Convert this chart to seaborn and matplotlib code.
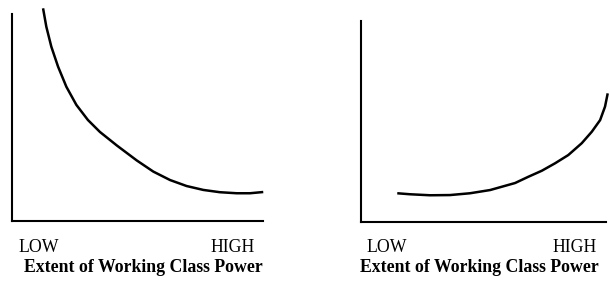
import matplotlib
matplotlib.use('Agg')
import matplotlib.pyplot as plt
import seaborn as sns

# curve (x: working class power 0..10, y: 0..10)
left_x = [1.22, 1.35, 1.55, 1.82, 2.15, 2.55, 3.01, 3.49, 4.17, 4.96, 5.62, 6.29,
          6.95, 7.62, 8.28, 8.95, 9.48, 10.01]
left_y = [10.29, 9.40, 8.43, 7.46, 6.49, 5.61, 4.88, 4.30, 3.64, 2.92, 2.38, 1.97,
          1.68, 1.49, 1.38, 1.33, 1.33, 1.39]

right_x = [1.48, 2.00, 2.82, 3.63, 4.45, 5.27, 6.29, 6.83, 7.38, 7.92, 8.46, 9.01,
           9.42, 9.76, 9.96, 10.07]
right_y = [1.43, 1.38, 1.33, 1.34, 1.43, 1.59, 1.94, 2.25, 2.55, 2.92, 3.33, 3.92,
           4.49, 5.07, 5.74, 6.40]

low_label = 'LOW'
high_label = 'HIGH'
axis_title = 'Extent of Working Class Power'

sns.set_style('white')
plt.rcParams['font.family'] = ['Liberation Serif', 'DejaVu Serif']

W, H = 610, 288
fig = plt.figure(figsize=(W / 100, H / 100), dpi=100)

# axes boxes in pixels: (left, top, right, bottom)
boxes = [(12.5, 14.3, 263, 220.7), (361, 21, 606, 222)]
curves = [(left_x, left_y), (right_x, right_y)]
# text positions in pixels: LOW left edge, HIGH right edge, title centre
texts = [(18.3, 255, 143), (366.7, 596.7, 479.5)]

for (l, t, r, b), (cx, cy), (lx, hx, tx) in zip(boxes, curves, texts):
    ax = fig.add_axes([l / W, 1 - b / H, (r - l) / W, (b - t) / H])
    sns.lineplot(x=cx, y=cy, ax=ax, color='black', linewidth=1.8,
                 estimator=None, sort=False, clip_on=False,
                 solid_joinstyle='round', solid_capstyle='butt')
    ax.set_xlim(0, 10)
    ax.set_ylim(0, 10)
    ax.set_xticks([])
    ax.set_yticks([])
    sns.despine(ax=ax)
    for side in ['left', 'bottom']:
        ax.spines[side].set_linewidth(1.5)
        ax.spines[side].set_color('black')

    fig.text(lx / W, 1 - 251.7 / H, low_label, ha='left', va='baseline',
             fontsize=12.8, color='black')
    fig.text(hx / W, 1 - 251.7 / H, high_label, ha='right', va='baseline',
             fontsize=12.8, color='black')
    fig.text(tx / W, 1 - 272.5 / H, axis_title, ha='center', va='baseline',
             fontsize=12.8, fontweight='bold', color='black')

fig.savefig('out.png', dpi=100)
